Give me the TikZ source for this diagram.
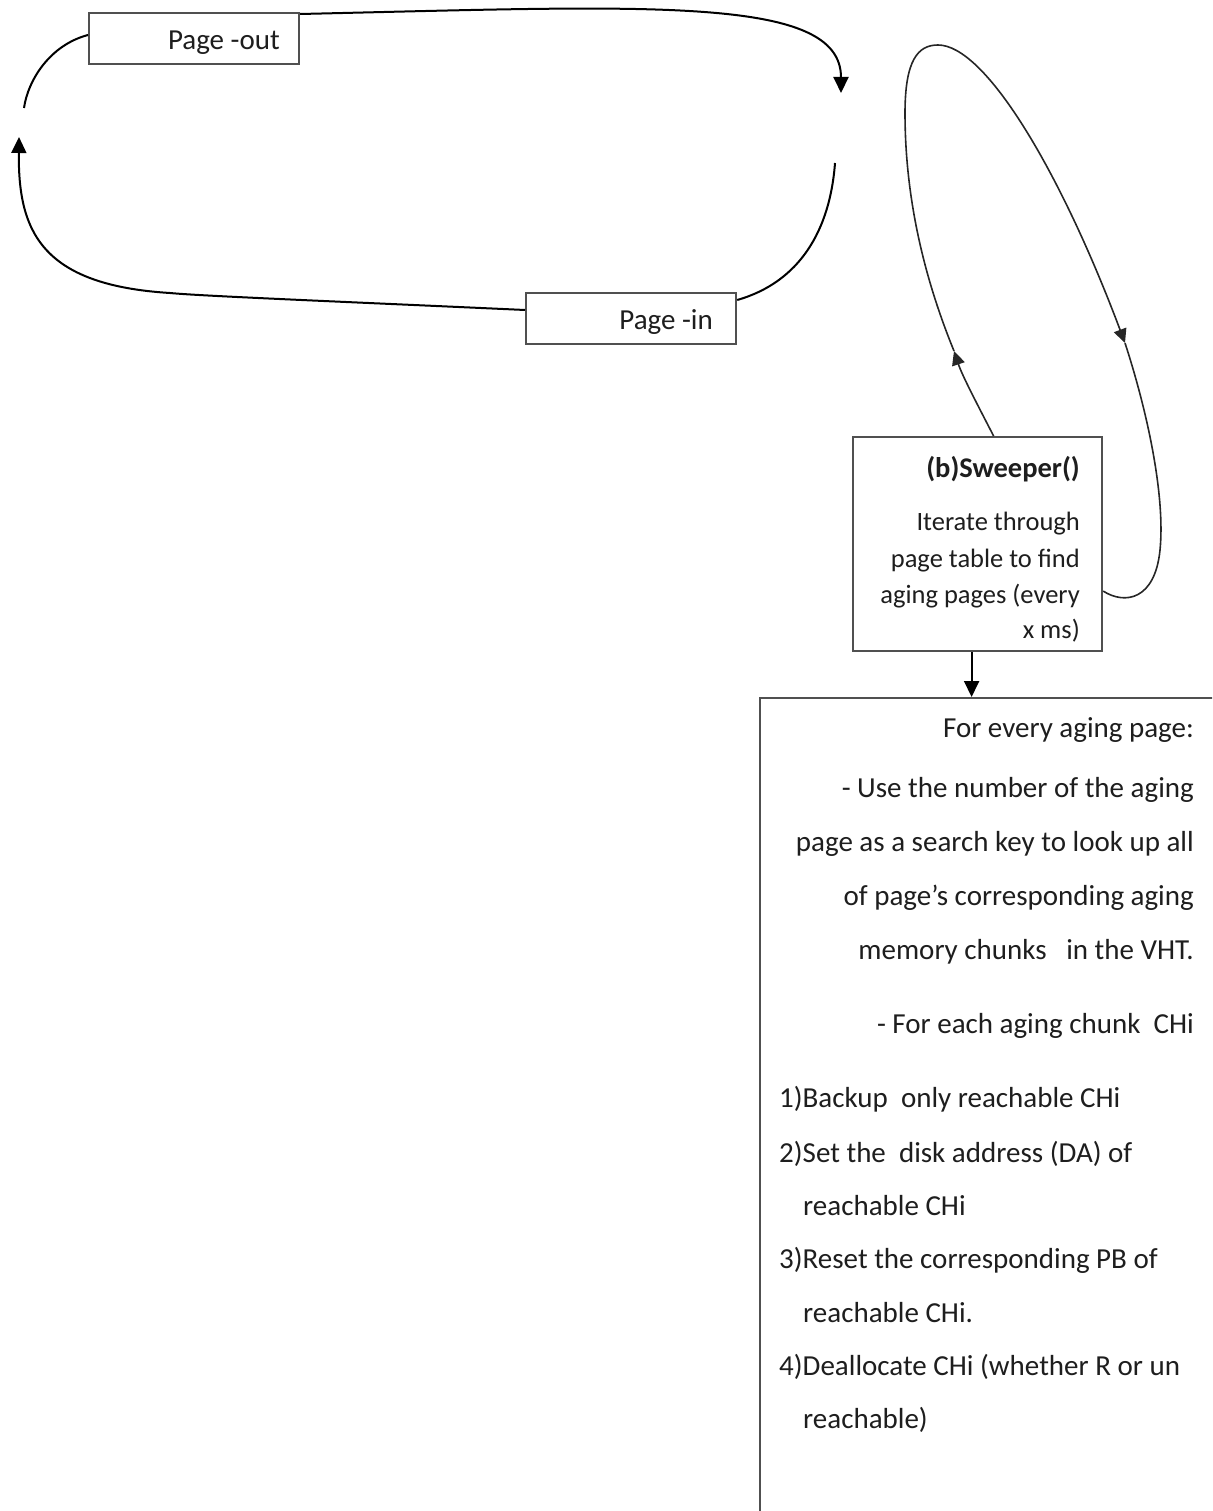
\documentclass[tikz,border=0pt]{standalone}
\usepackage{fontspec}
\setmainfont{Carlito}
\usetikzlibrary{arrows.meta,calc}
\definecolor{boxgray}{HTML}{505050}
\definecolor{textgray}{HTML}{1E1E1E}
\begin{document}
\begin{tikzpicture}[x=1pt,y=-1pt,
  box/.style={draw=boxgray, line width=2.2pt, fill=white, inner sep=0pt},
  txt/.style={inner sep=0pt, font=\fontsize{29}{34}\selectfont, text=textgray},
  stxt/.style={inner sep=0pt, font=\fontsize{26.5}{32}\selectfont, text=textgray},
  flow/.style={line width=2pt, draw=black},
  thinflow/.style={line width=1.6pt, draw=black!85},
  tip/.style={-{Triangle[length=16pt,width=15pt]}},
  stip/.style={-{Triangle[length=14pt,width=13pt]}},
]
\useasboundingbox (0,0) rectangle (1212,1511);
\clip (0,0) rectangle (1212,1511);

% boxes (placed first so that their anchors can be used)
\node[box, anchor=north west, minimum width=210pt, minimum height=51pt] (po) at (88,12) {};
\node[box, anchor=north west, minimum width=210pt, minimum height=51pt] (pi) at (525,292) {};
\node[box, anchor=north west, minimum width=249pt, minimum height=214pt] (sw) at (852,436) {};
\node[box, anchor=north west, minimum width=520pt, minimum height=900pt] (big) at (759,697) {};

% free ends of the page-in / page-out cycle
\coordinate (t1) at (841,93);
\coordinate (rc) at (835,163);
\coordinate (lt) at (19,137);
\coordinate (lc) at (24,108);

% page-in / page-out cycle
\draw[flow, tip] ($(po.north east)+(0,2)$) .. controls (650,6) and (841,-5) .. (t1);
\draw[flow] ($(pi.north east)+(0,8)$) .. controls (800,282) and (830,230) .. (rc);
\draw[flow, tip] ($(pi.north west)+(0,18)$) .. controls (350,302) and (200,296) .. (170,293)
  .. controls (40,285) and (18,230) .. (lt);
\draw[flow] ($(po.north west)+(0,23)$) .. controls (50,45) and (28,80) .. (lc);

% sweeper loop
\coordinate (s0) at ($(sw.north)+(16,0)$);
\coordinate (a1) at (954,351);
\coordinate (a2) at (1125,343);
\coordinate (s1) at ($(sw.east)+(0,47)$);
\draw[thinflow, stip] (s0) .. controls (975,400) and (962,375) .. (a1);
\draw[thinflow, stip] (a1) .. controls (925,280) and (905,200) .. (905,113)
  .. controls (905,60) and (918,45) .. (938,45)
  .. controls (985,45) and (1060,170) .. (a2);
\draw[thinflow] (a2) .. controls (1150,420) and (1165,500) .. (1160,550)
  .. controls (1155,600) and (1125,605) .. (s1);

% sweeper to the per-page work
\coordinate (sb) at ($(sw.south)+(-6,0)$);
\draw[flow, tip] (sb) -- (sb |- big.north);

% labels
\node[txt, anchor=base east] (pot) at (280,50) {Page -out};
\node[txt, anchor=base east] (pit) at (713,330) {Page -in};

\node[txt, anchor=base east, font=\fontsize{28.5}{34}\selectfont\bfseries] (swt) at (1080,477) {(b)Sweeper()};
\node[stxt, anchor=base east] (sw1) at (1080,530) {Iterate through};
\node[stxt, anchor=base east] (sw2) at (1080,567) {page table to find};
\node[stxt, anchor=base east] (sw3) at (1080,603) {aging pages (every};
\node[stxt, anchor=base east] (sw4) at (1080,638) {x ms)};

\node[txt, anchor=base east] (b1) at (1194,737) {For every aging page:};
\node[txt, anchor=base east] (b2) at (1194,797) {- Use the number of the aging};
\node[txt, anchor=base east] (b3) at (1194,851) {page as a search key to look up all};
\node[txt, anchor=base east] (b4) at (1194,905) {of page’s corresponding aging};
\node[txt, anchor=base east] (b5) at (1194,959) {memory chunks\ \ \ in the VHT.};
\node[txt, anchor=base east] (b6) at (1194,1033) {- For each aging chunk\ \ CHi};

\node[txt, anchor=base west] (c1) at (779,1107) {1)Backup\ \ only reachable CHi};
\node[txt, anchor=base west] (c2) at (779,1162) {2)Set the\ \ disk address (DA) of};
\node[txt, anchor=base west] (c3) at (803,1215) {reachable CHi};
\node[txt, anchor=base west] (c4) at (779,1268) {3)Reset the corresponding PB of};
\node[txt, anchor=base west] (c5) at (803,1322) {reachable CHi.};
\node[txt, anchor=base west] (c6) at (779,1375) {4)Deallocate CHi (whether R or un};
\node[txt, anchor=base west] (c7) at (803,1428) {reachable)};
\end{tikzpicture}
\end{document}
